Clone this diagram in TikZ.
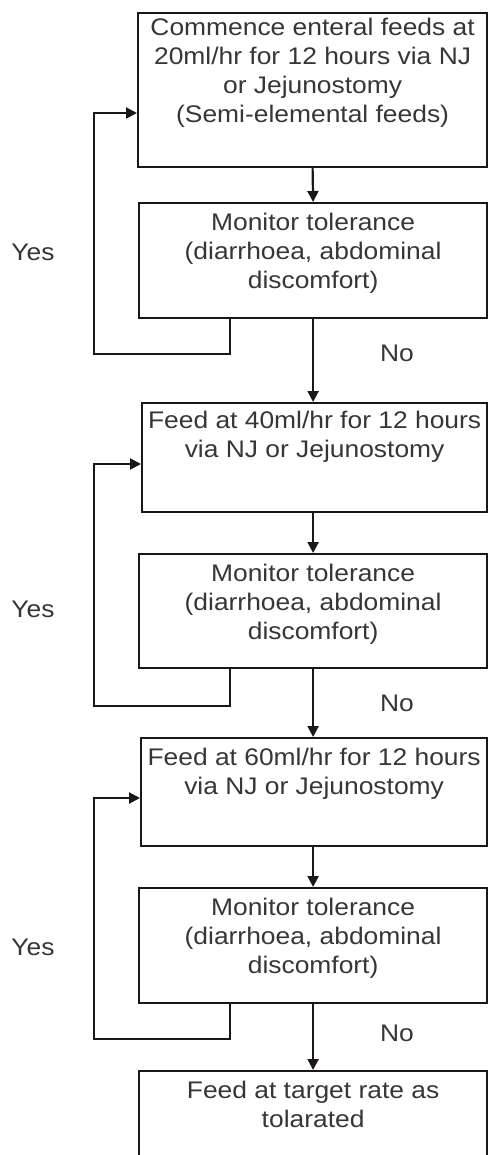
\documentclass[tikz,border=0pt]{standalone}
\usepackage{fontspec}
\setmainfont{Liberation Sans}[FakeStretch=1.1]
\usetikzlibrary{arrows.meta}
\definecolor{linec}{HTML}{1C1717}
\definecolor{textc}{HTML}{363636}
\newcommand{\fbtext}[4]{\parbox[c][#2][t]{#1}{\centering\vspace*{#3}#4}}
\begin{document}
\begin{tikzpicture}[x=1pt,y=-1pt,
  flowbox/.style={draw=linec, line width=2.2pt, inner sep=0pt, anchor=north west,
    text=textc, font=\fontsize{24}{29}\selectfont},
  arr/.style={draw=linec, line width=2.2pt, -{Triangle[length=11pt,width=11pt]}},
  lab/.style={text=textc, inner sep=0pt, font=\fontsize{24}{29}\selectfont}]
\useasboundingbox (0,0) rectangle (488,1155);
\clip (0,0) rectangle (488,1155);

\node[flowbox] (b1) at (137,12) {\fbtext{349pt}{154pt}{5pt}{Commence enteral feeds at\\20ml/hr for 12 hours via NJ\\or Jejunostomy\\(Semi-elemental feeds)}};
\node[flowbox] (b2) at (138,202) {\fbtext{348pt}{115pt}{10pt}{Monitor tolerance\\(diarrhoea, abdominal\\discomfort)}};
\node[flowbox] (b3) at (141,402) {\fbtext{345pt}{109pt}{8pt}{Feed at 40ml/hr for 12 hours\\via NJ or Jejunostomy}};
\node[flowbox] (b4) at (138,553) {\fbtext{348pt}{114pt}{10pt}{Monitor tolerance\\(diarrhoea, abdominal\\discomfort)}};
\node[flowbox] (b5) at (140,737) {\fbtext{346pt}{108pt}{10pt}{Feed at 60ml/hr for 12 hours\\via NJ or Jejunostomy}};
\node[flowbox] (b6) at (138,887) {\fbtext{348pt}{115pt}{10pt}{Monitor tolerance\\(diarrhoea, abdominal\\discomfort)}};
\node[flowbox] (b7) at (138,1070) {\fbtext{348pt}{120pt}{10pt}{Feed at target rate as\\tolarated}};

\draw[arr] (b1.south) -- (b2.north);
\draw[arr] (b2.south) -- (b3.north -| b2.south);
\draw[arr] (b3.south -| b2.south) -- (b4.north);
\draw[arr] (b4.south) -- (b5.north -| b4.south);
\draw[arr] (b5.south -| b4.south) -- (b6.north);
\draw[arr] (b6.south) -- (b7.north);

\coordinate (c1) at (94,354);
\coordinate (c2) at (94,706);
\coordinate (c3) at (94,1039);
\draw[arr] ([xshift=92pt]b2.south west) |- (c1) |- (b1.west |- 0,113);
\draw[arr] ([xshift=92pt]b4.south west) |- (c2) |- (b3.west |- 0,464);
\draw[arr] ([xshift=92pt]b6.south west) |- (c3) |- (b5.west |- 0,798);

\node[lab] (y1) at (33,252) {Yes};
\node[lab] (y2) at (33,609) {Yes};
\node[lab] (y3) at (33,947) {Yes};
\node[lab] (n1) at (397,353) {No};
\node[lab] (n2) at (397,703) {No};
\node[lab] (n3) at (397,1033) {No};
\end{tikzpicture}
\end{document}
